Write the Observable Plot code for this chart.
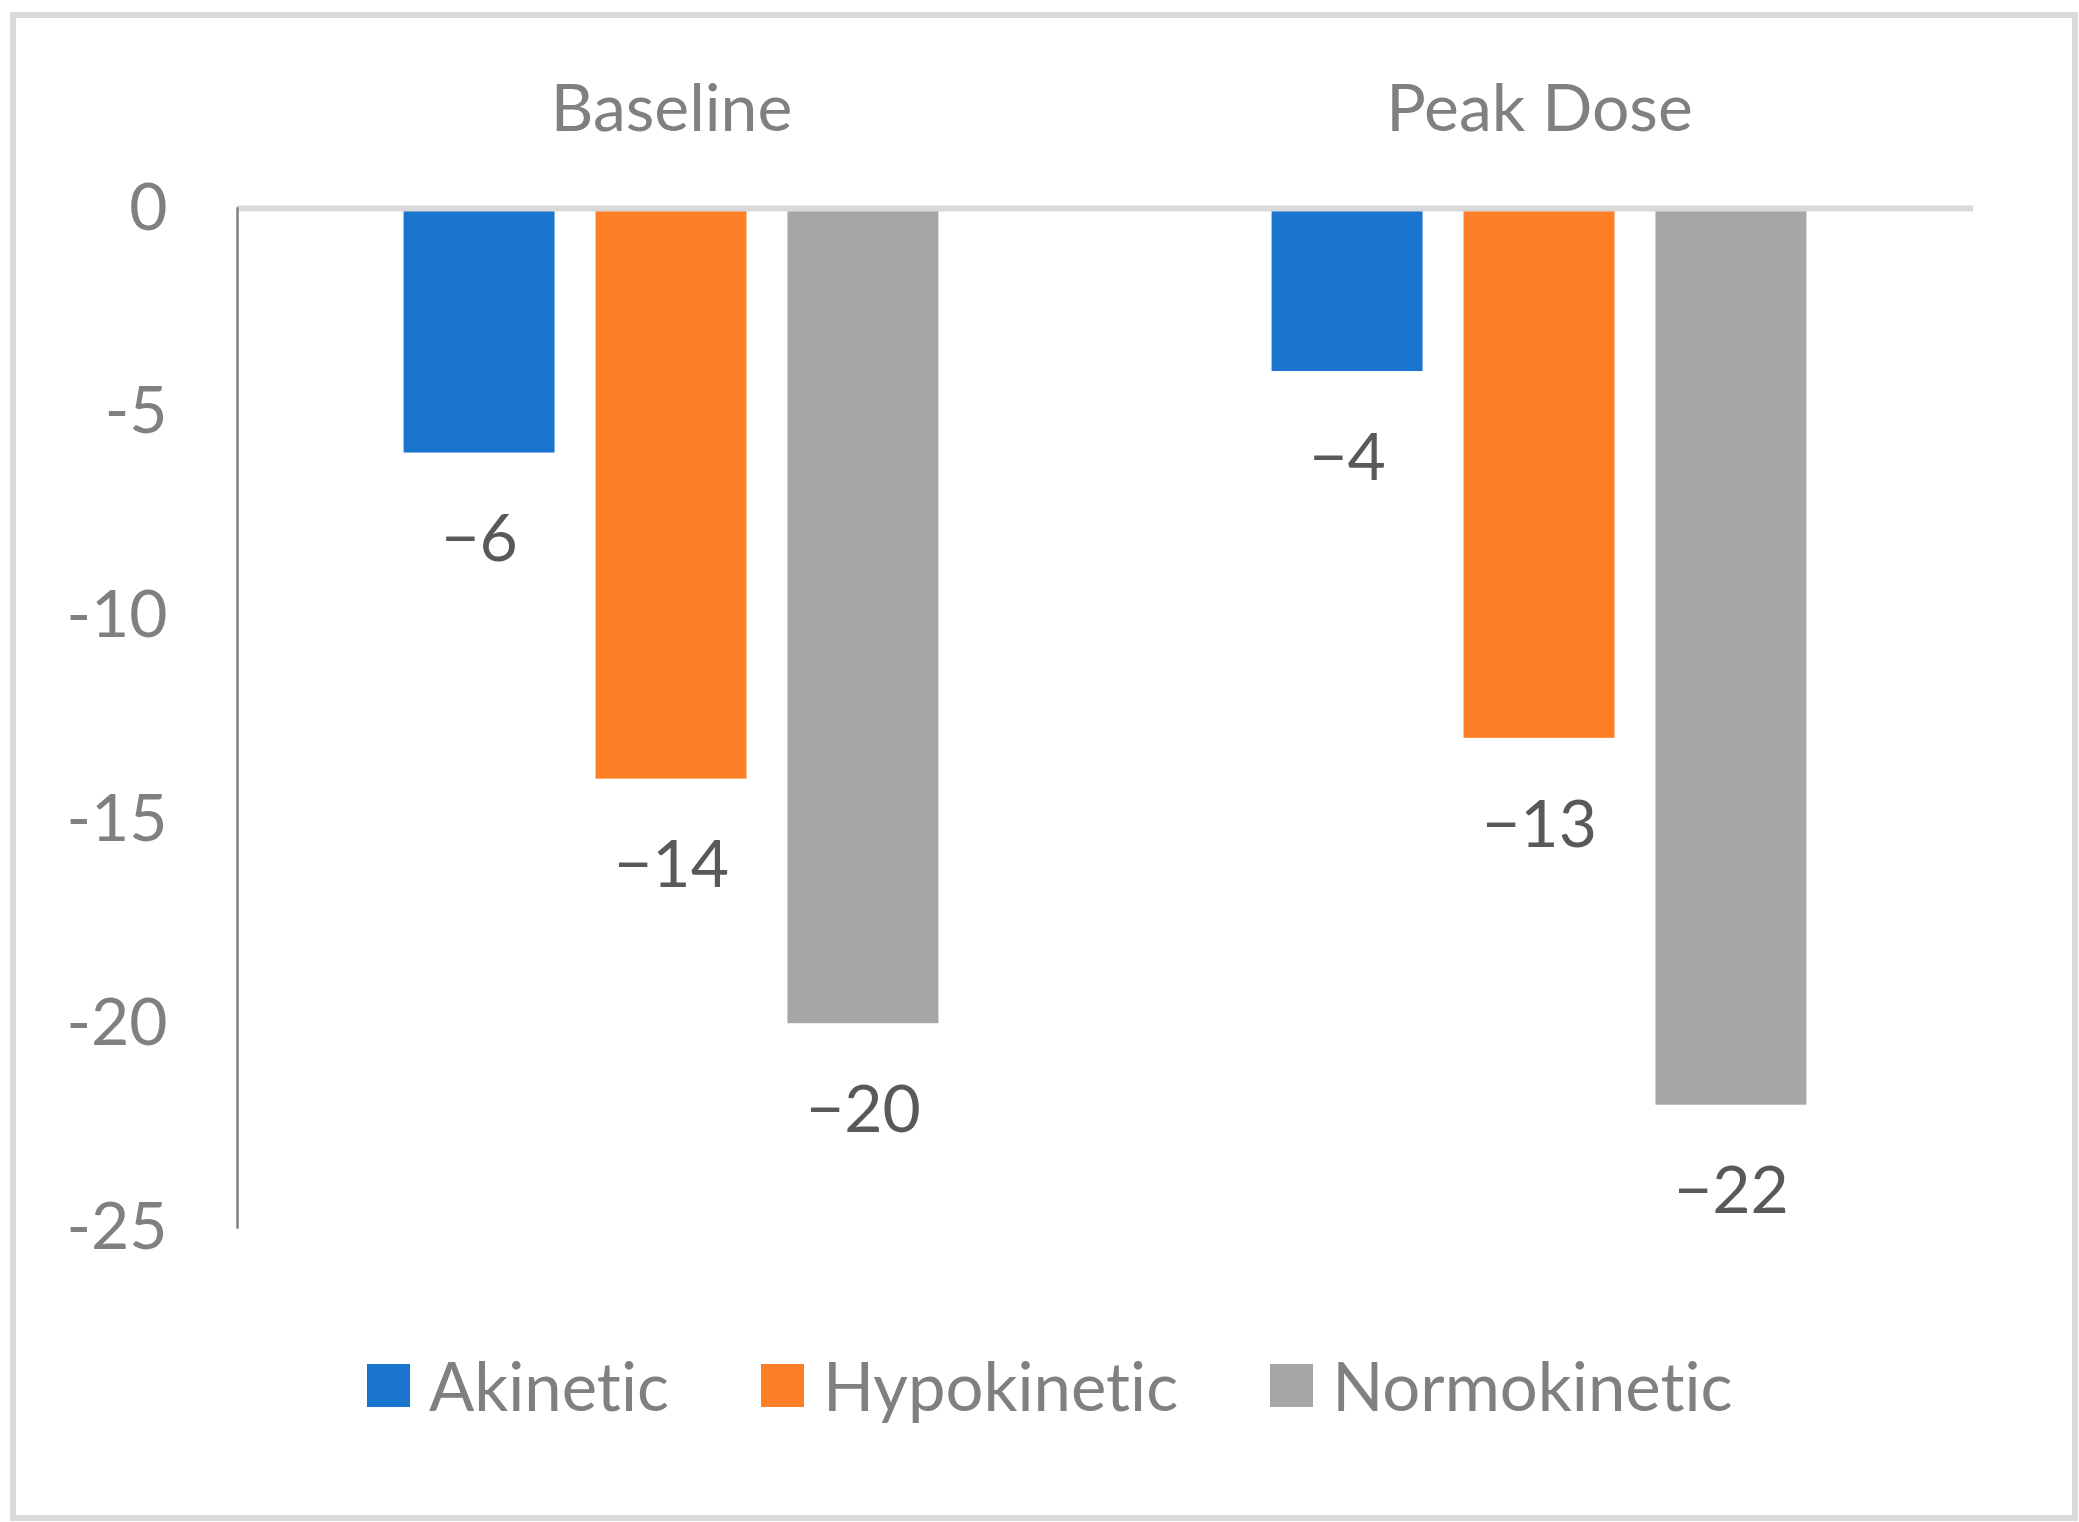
<!DOCTYPE html>
<html>
<head>
<meta charset="utf-8">
<script src="https://cdn.jsdelivr.net/npm/d3@7"></script>
<script src="https://cdn.jsdelivr.net/npm/@observablehq/plot@0.6"></script>
<style>
  html, body { margin: 0; padding: 0; background: #ffffff; }
  #wrap { position: relative; width: 2079px; height: 1522px; background: #ffffff; font-family: Lato, "Open Sans", sans-serif; overflow: hidden; }
  #frame { position: absolute; left: 10px; top: 12px; width: 2068px; height: 1509px; border: 6px solid #D9D9D9; box-sizing: border-box; }
  #chart { position: absolute; left: 0; top: 0; }
  #chart svg { display: block; font-variant-ligatures: none; font-feature-settings: "liga" 0, "clig" 0; }
  #chart svg text { font-variant-ligatures: none; font-feature-settings: "liga" 0, "clig" 0; }
  #legend { position: absolute; left: 367px; top: 1352px; display: flex; align-items: center; gap: 92px; }
  .item { display: flex; align-items: center; }
  .sw { width: 43px; height: 43px; margin-right: 19px; }
  .lab { font-size: 67px; line-height: 1; color: #808080; font-variant-ligatures: none; font-feature-settings: "liga" 0, "clig" 0; }
</style>
</head>
<body>
<div id="wrap">
  <div id="frame"></div>
  <div id="chart"></div>
  <div id="legend"></div>
</div>
<script>
const categories = ["Baseline", "Peak Dose"];
const series = ["Akinetic", "Hypokinetic", "Normokinetic"];
const colors = ["#1874CD", "#FF7F27", "#A6A6A6"];
const baselineValues = [-6, -14, -20];
const peakDoseValues = [-4, -13, -22];
const yTicks = [0, -5, -10, -15, -20, -25];

const valuesByCategory = [baselineValues, peakDoseValues];
const data = [];
categories.forEach((c, i) => {
  series.forEach((s, j) => {
    data.push({category: c, series: s, value: valuesByCategory[i][j]});
  });
});

const fmt = d3.format("d");

const chart = Plot.plot({
  width: 2079,
  height: 1320,
  marginTop: 208,
  marginBottom: 93,
  marginLeft: 236,
  marginRight: 106,
  style: {fontFamily: "Lato, 'Open Sans', sans-serif", background: "transparent", overflow: "visible"},
  fx: {domain: categories, paddingInner: 0, paddingOuter: 0, axis: null},
  x: {domain: series, paddingInner: 0.2135, paddingOuter: 0.868, axis: null, round: false},
  y: {domain: [-25, 0], axis: null},
  color: {domain: series, range: colors},
  marks: [
    Plot.barY(data, {fx: "category", x: "series", y: "value", fill: "series"}),
    Plot.ruleY([0], {stroke: "#D9D9D9", strokeWidth: 6}),
    Plot.frame({anchor: "left", facet: "super", stroke: "#808080", strokeWidth: 2.5}),
    Plot.axisY({ticks: yTicks, label: null, tickSize: 0, tickPadding: 70, color: "#808080", fontSize: 66, tickFormat: d => String(d)}),
    Plot.text(data, {fx: "category", x: "series", y: "value", text: d => fmt(d.value), dy: 87, fill: "#595959", fontSize: 66}),
    Plot.text(categories, {fx: d => d, frameAnchor: "top", lineAnchor: "middle", dy: -99, text: d => d, fill: "#808080", fontSize: 66})
  ]
});
document.getElementById("chart").appendChild(chart);

const legend = document.getElementById("legend");
series.forEach((s, i) => {
  const item = document.createElement("div");
  item.className = "item";
  const sw = document.createElement("div");
  sw.className = "sw";
  sw.style.background = colors[i];
  const lab = document.createElement("span");
  lab.className = "lab";
  lab.textContent = s;
  item.appendChild(sw);
  item.appendChild(lab);
  legend.appendChild(item);
});
</script>
</body>
</html>
